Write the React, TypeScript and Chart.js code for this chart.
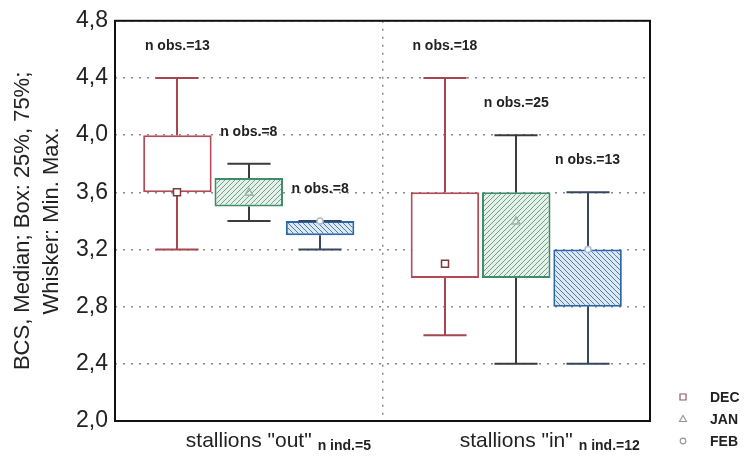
import React, { useEffect, useRef } from 'react';
import { Chart, registerables } from 'chart.js';
Chart.register(...registerables);

const categories = ['stallions "out"', 'stallions "in"'];
const individuals = ['n ind.=5', 'n ind.=12'];
const seriesNames = ['DEC', 'JAN', 'FEB'];

const decMin = [3.2, 2.6];
const decQ1 = [3.6, 3.0];
const decQ3 = [4.0, 3.6];
const decMax = [4.4, 4.4];
const decMedian = [3.6, 3.1];
const decObs = [13, 18];

const janMin = [3.4, 2.4];
const janQ1 = [3.5, 3.0];
const janQ3 = [3.7, 3.6];
const janMax = [3.8, 4.0];
const janMedian = [3.6, 3.4];
const janObs = [8, 25];

const febMin = [3.2, 2.4];
const febQ1 = [3.3, 2.8];
const febQ3 = [3.4, 3.2];
const febMax = [3.4, 3.6];
const febMedian = [3.4, 3.2];
const febObs = [8, 13];

const yTicks = [2.0, 2.4, 2.8, 3.2, 3.6, 4.0, 4.4, 4.8];
const yTitle = ['BCS, Median; Box: 25%, 75%;', 'Whisker: Min. Max.'];

const FONT = '"Liberation Sans", Arial, Helvetica, sans-serif';

function hatch(bg: string, line: string, dir: number) {
  const s = 5;
  const c = document.createElement('canvas');
  c.width = s; c.height = s;
  const g = c.getContext('2d')!;
  g.fillStyle = bg; g.fillRect(0, 0, s, s);
  g.strokeStyle = line; g.lineWidth = 1;
  g.beginPath();
  if (dir > 0) {
    g.moveTo(0, s); g.lineTo(s, 0);
    g.moveTo(-1, 1); g.lineTo(1, -1);
    g.moveTo(s - 1, s + 1); g.lineTo(s + 1, s - 1);
  } else {
    g.moveTo(0, 0); g.lineTo(s, s);
    g.moveTo(-1, s - 1); g.lineTo(1, s + 1);
    g.moveTo(s - 1, -1); g.lineTo(s + 1, 1);
  }
  g.stroke();
  return g.createPattern(c, 'repeat');
}

const extras = {
  id: 'boxExtras',
  afterDatasetsDraw(chart: any) {
    const ctx = chart.ctx as CanvasRenderingContext2D;
    const ys = chart.scales.y;
    const xs = chart.scales.x;
    const area = chart.chartArea;
    chart.data.datasets.forEach((ds: any, i: number) => {
      const meta = chart.getDatasetMeta(i);
      meta.data.forEach((el: any, j: number) => {
        const cx = Math.round(el.x);
        const capW = el.width * 0.63;
        const pMax = ys.getPixelForValue(ds.whMax[j]);
        const pMin = ys.getPixelForValue(ds.whMin[j]);
        const pQ1 = ys.getPixelForValue(ds.data[j][0]);
        const pQ3 = ys.getPixelForValue(ds.data[j][1]);
        ctx.save();
        ctx.strokeStyle = ds.whiskerColor;
        ctx.lineWidth = 2;
        ctx.beginPath();
        ctx.moveTo(cx, pQ3); ctx.lineTo(cx, pMax);
        ctx.moveTo(cx - capW / 2, pMax); ctx.lineTo(cx + capW / 2, pMax);
        ctx.moveTo(cx, pQ1); ctx.lineTo(cx, pMin);
        ctx.moveTo(cx - capW / 2, pMin); ctx.lineTo(cx + capW / 2, pMin);
        ctx.stroke();
        // median marker
        const pMed = ys.getPixelForValue(ds.median[j]);
        ctx.lineWidth = 1.5;
        ctx.strokeStyle = ds.markerColor;
        ctx.fillStyle = ds.markerFill;
        ctx.beginPath();
        if (ds.marker === 'square') {
          ctx.rect(cx - 3.5, pMed - 3.5, 7, 7);
        } else if (ds.marker === 'triangle') {
          ctx.moveTo(cx, pMed - 4); ctx.lineTo(cx + 4, pMed + 3); ctx.lineTo(cx - 4, pMed + 3); ctx.closePath();
        } else {
          ctx.arc(cx, pMed, 3, 0, Math.PI * 2);
        }
        ctx.fill();
        ctx.stroke();
        // n obs annotation
        ctx.fillStyle = '#222';
        ctx.font = 'bold 14px ' + FONT;
        ctx.textAlign = 'center';
        ctx.textBaseline = 'middle';
        ctx.fillText('n obs.=' + ds.obs[j], el.x, pMax - 32);
        ctx.restore();
      });
    });
    ctx.save();
    // frame
    ctx.strokeStyle = '#111';
    ctx.lineWidth = 2;
    ctx.strokeRect(area.left, area.top, area.right - area.left, area.bottom - area.top);
    // sub labels for categories
    categories.forEach((c, i) => {
      ctx.font = '21px ' + FONT;
      const w = ctx.measureText(c).width;
      const px = xs.getPixelForValue(i);
      ctx.font = 'bold 14px ' + FONT;
      ctx.fillStyle = '#222';
      ctx.textAlign = 'left';
      ctx.textBaseline = 'alphabetic';
      ctx.fillText(individuals[i], px + w / 2 + 6, 450);
    });
    // legend
    const lx = 683;
    const legendMarkers = ['square', 'triangle', 'circle'];
    seriesNames.forEach((n, i) => {
      const ly = 397 + i * 22;
      ctx.lineWidth = 1.2;
      ctx.strokeStyle = i === 0 ? '#8a5a60' : '#999';
      ctx.fillStyle = '#fff';
      ctx.beginPath();
      if (legendMarkers[i] === 'square') ctx.rect(lx - 3, ly - 3, 6, 6);
      else if (legendMarkers[i] === 'triangle') { ctx.moveTo(lx, ly - 3.5); ctx.lineTo(lx + 3.5, ly + 2.5); ctx.lineTo(lx - 3.5, ly + 2.5); ctx.closePath(); }
      else ctx.arc(lx, ly, 2.8, 0, Math.PI * 2);
      ctx.fill(); ctx.stroke();
      ctx.fillStyle = '#222';
      ctx.font = 'bold 14px ' + FONT;
      ctx.textAlign = 'left';
      ctx.textBaseline = 'middle';
      ctx.fillText(n, 710, ly + 1);
    });
    ctx.restore();
  },
};

export default function App() {
  const ref = useRef<HTMLCanvasElement>(null);
  useEffect(() => {
    const greenHatch = hatch('#e4f0e9', '#6e9f89', 1);
    const blueHatch = hatch('#dce8f4', '#4f7cb0', -1);
    const chart = new Chart(ref.current!, {
      type: 'bar',
      data: {
        labels: categories,
        datasets: [
          {
            label: seriesNames[0],
            data: decQ1.map((q, i) => [q, decQ3[i]]),
            whMin: decMin, whMax: decMax, median: decMedian, obs: decObs,
            backgroundColor: '#ffffff', borderColor: '#b24b55', whiskerColor: '#a8454e',
            marker: 'square', markerColor: '#7a3a40', markerFill: '#ffffff',
          } as any,
          {
            label: seriesNames[1],
            data: janQ1.map((q, i) => [q, janQ3[i]]),
            whMin: janMin, whMax: janMax, median: janMedian, obs: janObs,
            backgroundColor: greenHatch, borderColor: '#3f8c6c', whiskerColor: '#3a3d3c',
            marker: 'triangle', markerColor: '#9db6aa', markerFill: 'rgba(255,255,255,0)',
          } as any,
          {
            label: seriesNames[2],
            data: febQ1.map((q, i) => [q, febQ3[i]]),
            whMin: febMin, whMax: febMax, median: febMedian, obs: febObs,
            backgroundColor: blueHatch, borderColor: '#2f64a6', whiskerColor: '#34475e',
            marker: 'circle', markerColor: '#a9bdd3', markerFill: '#ffffff',
          } as any,
        ],
      },
      options: {
        responsive: false,
        animation: false,
        layout: { padding: { top: 17, right: 94, left: 0, bottom: 0 } },
        datasets: {
          bar: { categoryPercentage: 0.8, barPercentage: 0.96, borderWidth: 2, borderSkipped: false } as any,
        },
        plugins: { legend: { display: false }, tooltip: { enabled: false } },
        scales: {
          x: {
            grid: { display: true, offset: true, drawTicks: false, color: '#8a8a8a', lineWidth: 1.5 },
            border: { display: false, dash: [2, 6] },
            ticks: { color: '#222', font: { family: FONT, size: 21 }, padding: 8 },
            afterFit: (s: any) => { s.height = 43; },
          },
          y: {
            min: 2.0,
            max: 4.8,
            afterBuildTicks: (s: any) => { s.ticks = yTicks.map((v) => ({ value: v })); },
            grid: { drawTicks: false, color: '#8a8a8a', lineWidth: 1.5 },
            border: { display: false, dash: [2, 6] },
            ticks: {
              color: '#222',
              font: { family: FONT, size: 23 },
              padding: 7,
              callback: (v: any) => Number(v).toFixed(1).replace('.', ','),
            },
            title: {
              display: true,
              text: yTitle,
              color: '#222',
              font: { family: FONT, size: 22, lineHeight: 1.32 },
              padding: { top: 8, bottom: 0 },
            },
            afterFit: (s: any) => { s.width = 115; },
          },
        },
      },
      plugins: [extras],
    });
    return () => chart.destroy();
  }, []);
  return (
    <div style={{ position: 'fixed', left: 0, top: 0, width: 744, height: 464, background: '#fff' }}>
      <canvas ref={ref} width={744} height={464} />
    </div>
  );
}
